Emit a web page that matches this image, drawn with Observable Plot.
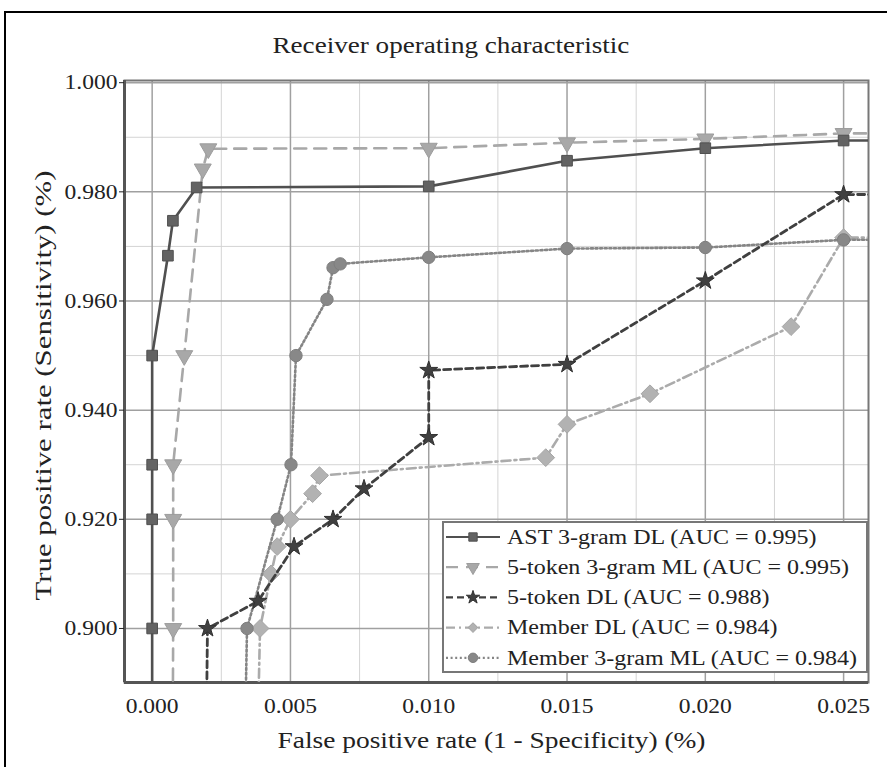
<!DOCTYPE html>
<html><head><meta charset="utf-8">
<script src="https://cdn.jsdelivr.net/npm/d3@7"></script>
<script src="https://cdn.jsdelivr.net/npm/@observablehq/plot@0.6"></script>
<style>
html,body{margin:0;padding:0;background:#fff;overflow:hidden;width:887px;height:767px;}
#wrap{position:relative;width:887px;height:767px;font-family:"Liberation Serif","Times New Roman",serif;color:#222;overflow:hidden;}
#border{position:absolute;left:4px;top:11px;width:900px;height:800px;border:2px solid #000;box-sizing:border-box;}
#chart{position:absolute;left:0;top:0;}
#title{position:absolute;top:31px;left:0;width:902px;text-align:center;font-size:24px;line-height:28px;}
#title span{display:inline-block;transform:scaleX(1.13);}
#legend{position:absolute;left:442px;top:521px;}
</style></head>
<body><div id="wrap"><div id="border"></div><div id="chart"></div><div id="title"><span>Receiver operating characteristic</span></div><div id="legend"></div></div>
<script>
// ---- axes / ticks ----
const xTicks = [0, 0.005, 0.010, 0.015, 0.020, 0.025];
const xMinor = [0.0025, 0.0075, 0.0125, 0.0175, 0.0225];
const yTicks = [0.900, 0.920, 0.940, 0.960, 0.980, 1.000];
const yMinor = [0.910, 0.930, 0.950, 0.970, 0.990];
const xDomain = [-0.001, 0.0259];
const yDomain = [0.8901, 1.0004];
const xLabel = "False positive rate (1 - Specificity) (%)";
const yLabel = "True positive rate (Sensitivity) (%)";

// ---- series ----
const seriesNames = [
  "AST 3-gram DL (AUC = 0.995)",
  "5-token 3-gram ML (AUC = 0.995)",
  "5-token DL (AUC = 0.988)",
  "Member DL (AUC = 0.984)",
  "Member 3-gram ML (AUC = 0.984)"
];
const astFpr = [0, 0, 0, 0, 0, 0.00057, 0.00075, 0.00161, 0.0100, 0.0150, 0.0200, 0.0250, 1];
const astTpr = [0, 0.900, 0.920, 0.930, 0.950, 0.9683, 0.9747, 0.9808, 0.9810, 0.9857, 0.9880, 0.9894, 1];
const tokMlFpr = [0, 0.00076, 0.00076, 0.00076, 0.00116, 0.00183, 0.00203, 0.0100, 0.0150, 0.0200, 0.0250, 1];
const tokMlTpr = [0, 0.900, 0.920, 0.930, 0.950, 0.9842, 0.9879, 0.9880, 0.9890, 0.9897, 0.9907, 1];
const tokDlFpr = [0, 0.0020, 0.00383, 0.00513, 0.00654, 0.00766, 0.0100, 0.0100, 0.0150, 0.0200, 0.0250, 1];
const tokDlTpr = [0, 0.900, 0.905, 0.915, 0.920, 0.9256, 0.935, 0.9473, 0.9484, 0.9637, 0.9795, 1];
const memDlFpr = [0, 0.0039, 0.0043, 0.00452, 0.0050, 0.0058, 0.00605, 0.01423, 0.0150, 0.0180, 0.0231, 0.0250, 1];
const memDlTpr = [0, 0.900, 0.910, 0.915, 0.920, 0.9247, 0.928, 0.9313, 0.9374, 0.943, 0.9553, 0.9716, 1];
const memMlFpr = [0, 0.00343, 0.00452, 0.00502, 0.0052, 0.00632, 0.00654, 0.0068, 0.0100, 0.0150, 0.0200, 0.0250, 1];
const memMlTpr = [0, 0.900, 0.920, 0.930, 0.950, 0.9603, 0.9661, 0.9668, 0.968, 0.9696, 0.9698, 0.9712, 1];

const styles = [
  {line:"#505050", fill:"#636363", stroke:"#505050", dash:null, symbol:"square", r:6, rotate:0, width:2.6},
  {line:"#a8a8a8", fill:"#a8a8a8", stroke:"#9c9c9c", dash:"12,8", symbol:"triangle", r:6.3, rotate:180, width:2.6},
  {line:"#404040", fill:"#404040", stroke:"#303030", dash:"7,4", symbol:"star", r:5.6, rotate:0, width:2.8},
  {line:"#ababab", fill:"#b2b2b2", stroke:"#a5a5a5", dash:"9,4,2,4", symbol:"diamond2", r:8, rotate:0, width:2.6},
  {line:"#858585", fill:"#888", stroke:"#7e7e7e", dash:"2,2.6", symbol:"circle", r:6.2, rotate:0, width:2.6}
];
const seriesData = [
  d3.zip(astFpr, astTpr),
  d3.zip(tokMlFpr, tokMlTpr),
  d3.zip(tokDlFpr, tokDlTpr),
  d3.zip(memDlFpr, memDlTpr),
  d3.zip(memMlFpr, memMlTpr)
].map(arr => arr.map(([x, y]) => ({x, y})));

const drawOrder = [1, 0, 3, 4, 2];
const seriesMarks = [];
for (const i of drawOrder) {
  const s = styles[i];
  seriesMarks.push(Plot.line(seriesData[i], {x:"x", y:"y", stroke:s.line, strokeWidth:s.width, strokeDasharray:s.dash, clip:true}));
  seriesMarks.push(Plot.dot(seriesData[i], {x:"x", y:"y", symbol:s.symbol, r:s.r, rotate:s.rotate, fill:s.fill, stroke:s.stroke, strokeWidth:1, clip:true}));
}

const chart = Plot.plot({
  width: 887, height: 767,
  marginLeft: 124, marginRight: 19, marginTop: 80, marginBottom: 85,
  style: {background:"none", fontFamily:"'Liberation Serif','Times New Roman',serif", fontSize:"21px", color:"#222"},
  x: {domain: xDomain, label: null},
  y: {domain: yDomain, label: null},
  marks: [
    Plot.ruleX(xMinor, {stroke:"#d4d4d4", strokeWidth:1}),
    Plot.ruleY(yMinor, {stroke:"#d4d4d4", strokeWidth:1}),
    Plot.ruleX(xTicks, {stroke:"#a0a0a0", strokeWidth:1.5}),
    Plot.ruleY(yTicks, {stroke:"#a0a0a0", strokeWidth:1.5}),
    Plot.frame({stroke:"#777", strokeWidth:2}),
    Plot.ruleX([xDomain[0]], {stroke:"#555", strokeWidth:3}),
    Plot.ruleY([yDomain[0]], {stroke:"#555", strokeWidth:3}),
    ...seriesMarks,
    Plot.axisX(xTicks, {tickFormat: d3.format(".3f"), tickSize:0, tickPadding:16, label:null}),
    Plot.axisY(yTicks, {tickFormat: d3.format(".3f"), tickSize:5, tickPadding:2, label:null}),
    Plot.text([xLabel], {frameAnchor:"bottom", textAnchor:"middle", dx:-5, dy:65, fontSize:23, fill:"#222"}),
    Plot.text([yLabel], {frameAnchor:"left", textAnchor:"middle", dx:-81, dy:4, rotate:-90, fontSize:23, fill:"#222"})
  ]
});
document.getElementById("chart").appendChild(chart);

// widen the serif glyphs like the reference
chart.querySelectorAll("text").forEach(t => {
  const L = t.getComputedTextLength();
  if (!L) return;
  let target = L * 1.12;
  if (t.textContent === xLabel) target = 428;
  if (t.textContent === yLabel) target = 430;
  t.setAttribute("textLength", target);
  t.setAttribute("lengthAdjust", "spacingAndGlyphs");
});

// ---- legend ----
const lw = 426, lh = 152;
const leg = d3.select("#legend").append("svg").attr("width", lw).attr("height", lh)
  .style("font-family", "'Liberation Serif','Times New Roman',serif");
leg.append("rect").attr("x", 1).attr("y", 1).attr("width", lw - 2).attr("height", lh - 2)
  .attr("fill", "#fff").attr("stroke", "#777").attr("stroke-width", 2);
const symMap = {square: d3.symbolSquare, triangle: d3.symbolTriangle, star: d3.symbolStar, diamond2: d3.symbolSquare, circle: d3.symbolCircle};
const legSize = {square: 70, triangle: 70, star: 55, diamond2: 45, circle: 70};
seriesNames.forEach((name, i) => {
  const s = styles[i];
  const cy = 16 + i * 30.2;
  const g = leg.append("g");
  g.append("line").attr("x1", 4).attr("x2", 58).attr("y1", cy).attr("y2", cy)
    .attr("stroke", s.line).attr("stroke-width", 2.2).attr("stroke-dasharray", s.dash);
  const rot = s.symbol === "diamond2" ? 45 : s.rotate;
  g.append("path").attr("d", d3.symbol(symMap[s.symbol], legSize[s.symbol])())
    .attr("transform", `translate(31,${cy}) rotate(${rot})`)
    .attr("fill", s.fill).attr("stroke", s.stroke);
  const t = g.append("text").attr("x", 65).attr("y", cy).attr("dy", "0.34em")
    .attr("font-size", 20).attr("fill", "#222").text(name);
  const L = t.node().getComputedTextLength();
  t.attr("textLength", L * 1.2).attr("lengthAdjust", "spacingAndGlyphs");
});
</script>
</body></html>
